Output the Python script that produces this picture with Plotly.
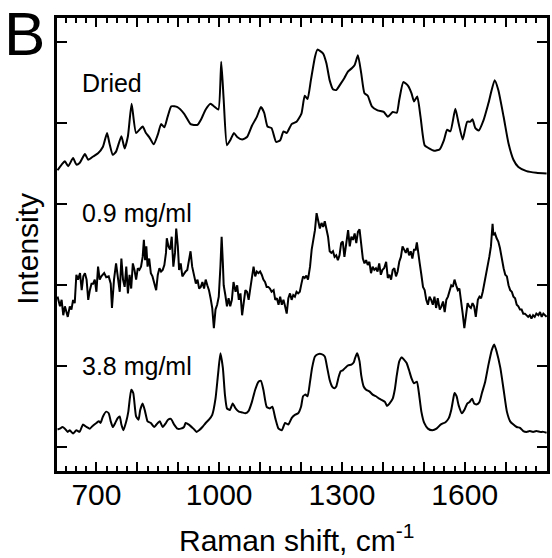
import plotly.graph_objects as go

# ---------------- data (Raman shift in cm^-1, intensity in arbitrary offset units) ----------------
dried_shift = [605,615,623,631,643,651,659,672,680,692,704,716,726,732,740,748,761,769,777,786,
               797,813,821,829,840,850,858,866,874,883,898,914,930,938,947,955,967,979,987,998,
               1005,1011,1019,1027,1036,1044,1056,1068,1080,1092,1102,1110,1118,1128,1139,1149,1157,1165,1177,1189,
               1201,1209,1216,1224,1234,1240,1254,1262,1270,1278,1286,1297,1306,1315,1324,1331,1339,1347,1355,1363,
               1373,1387,1402,1412,1424,1434,1440,1450,1462,1470,1476,1484,1492,1502,1513,1525,1539,1549,1557,1565,
               1577,1585,1595,1606,1614,1619,1626,1634,1646,1658,1673,1682,1695,1707,1719,1731,1751,1775,1800]
dried_int = [3.42,3.49,3.53,3.47,3.57,3.49,3.51,3.62,3.55,3.59,3.63,3.71,3.88,3.75,3.61,3.65,3.84,3.69,3.84,4.24,
             3.88,3.96,3.88,3.83,3.74,3.86,3.99,3.95,4.08,4.21,4.20,4.12,3.99,3.98,3.98,4.04,4.17,4.24,4.21,4.17,
             4.76,4.29,3.73,3.79,3.88,3.83,3.80,3.83,3.97,4.08,4.20,4.13,3.96,3.94,3.77,3.79,3.90,3.88,3.99,4.02,
             4.12,4.34,4.30,4.53,4.82,4.91,4.86,4.74,4.53,4.42,4.41,4.49,4.56,4.64,4.68,4.72,4.84,4.62,4.37,4.34,
             4.21,4.16,4.14,4.08,4.14,4.13,4.29,4.51,4.46,4.37,4.27,4.33,4.08,3.73,3.69,3.66,3.68,3.79,3.92,3.90,
             4.18,4.00,3.80,4.02,4.02,4.05,3.94,3.91,4.04,4.25,4.53,4.41,4.08,3.75,3.55,3.46,3.41,3.39,3.38]

c09_shift = [605,611,615,619,623,630,635,639,643,647,651,655,660,664,668,672,676,680,684,688,
             692,696,700,704,708,712,719,724,730,735,738,743,748,753,757,761,765,769,773,777,
             781,785,789,793,797,801,805,809,813,816,819,822,825,829,833,837,841,846,850,854,
             858,862,866,870,872,876,880,884,888,892,895,899,902,906,910,914,918,922,926,930,
             934,939,943,947,951,955,959,963,967,971,975,979,983,987,991,995,999,1003,1006,1009,
             1011,1015,1019,1023,1027,1031,1035,1040,1044,1048,1052,1056,1060,1064,1068,1072,1076,1080,1084,1088,
             1092,1096,1100,1104,1108,1112,1116,1120,1124,1128,1133,1137,1141,1145,1149,1153,1157,1161,1165,1169,
             1173,1177,1181,1185,1189,
             1193,1197,1201,1205,1209,1213,1217,1222,1226,1230,1234,1238,1242,1246,1250,1254,1258,1262,1266,1270,
             1274,1278,1282,1286,1290,1294,1298,1302,1306,1310,1315,1319,1323,1327,1331,1335,1339,1343,1347,1351,
             1355,1359,1363,1367,1371,1375,1379,1383,1387,1391,1395,1399,1403,1408,1412,1416,1420,1424,1428,1432,
             1436,1440,1444,1448,1452,1456,1460,1464,1468,1472,1476,1480,1483,1486,1490,1494,1498,1502,1506,1510,
             1514,1518,1522,1526,1530,1534,1539,1543,1547,1551,1555,1559,1563,1567,1571,1575,1579,1583,1587,1591,
             1595,1599,1603,1607,1611,1615,1619,1623,1627,1632,1636,1640,1644,1648,1652,1656,1660,1664,1668,1670,
             1674,1678,1682,1686,1691,1695,1699,1703,1707,1711,1715,1719,1723,1727,1731,1735,1739,1743,1747,1751,
             1755,1759,1763,1767,1771,1775,1780,1784,1788,1792,1796,1800]
c09_int = [1.86,1.74,1.82,1.63,1.74,1.61,1.74,1.70,1.82,1.78,2.13,2.07,2.15,1.94,2.11,2.15,2.07,1.82,1.94,2.02,
           2.02,2.07,1.92,2.23,2.07,2.11,2.15,2.10,2.11,2.02,1.72,2.07,2.27,2.07,1.92,2.33,2.07,1.98,2.23,1.90,
           2.13,1.96,2.27,2.19,2.07,2.21,2.19,2.23,2.35,2.56,2.31,2.48,2.23,2.33,2.15,2.11,2.04,1.94,2.13,2.21,
           2.17,2.19,2.25,2.40,2.58,2.48,2.44,2.60,2.23,2.40,2.70,2.48,2.19,2.27,2.11,2.15,2.17,2.19,2.31,2.42,
           2.23,2.13,2.02,2.07,1.96,1.98,2.04,1.96,2.07,2.00,1.94,1.84,1.72,1.47,1.70,1.76,1.86,2.23,2.60,2.27,
           2.00,1.88,1.74,1.84,1.74,1.82,2.04,1.92,2.00,1.82,1.90,1.63,1.78,1.94,1.92,1.82,1.96,2.13,2.23,2.11,
           2.17,2.15,2.17,2.13,2.07,2.04,1.98,1.98,1.96,1.92,1.94,1.82,1.84,1.76,1.86,1.76,1.82,1.74,1.65,1.84,
           1.90,1.82,1.88,1.86,1.92,
           1.90,1.92,2.02,2.11,2.09,2.12,2.07,2.23,2.44,2.56,2.68,2.89,2.81,2.70,2.77,2.72,2.79,2.70,2.60,2.42,
           2.40,2.42,2.35,2.37,2.31,2.37,2.52,2.54,2.35,2.50,2.68,2.48,2.60,2.56,2.64,2.52,2.66,2.69,2.52,2.33,
           2.27,2.31,2.25,2.29,2.15,2.23,2.19,2.21,2.17,2.27,2.13,2.19,2.21,2.29,2.09,2.13,2.07,2.19,2.21,2.11,
           2.17,2.29,2.35,2.48,2.44,2.40,2.46,2.37,2.42,2.33,2.44,2.44,2.53,2.44,2.27,2.13,1.98,1.94,1.82,1.76,
           1.86,1.82,1.76,1.86,1.72,1.84,1.70,1.74,1.80,1.67,1.82,1.86,1.92,2.00,1.98,2.07,2.00,1.94,1.96,1.82,
           1.65,1.47,1.61,1.78,1.74,1.72,1.78,1.74,1.61,1.82,1.86,1.84,1.92,2.02,2.13,2.25,2.35,2.48,2.76,2.62,
           2.64,2.58,2.54,2.46,2.31,2.21,2.13,2.11,2.00,1.94,1.92,1.86,1.84,1.76,1.74,1.70,1.70,1.65,1.65,1.63,
           1.61,1.63,1.59,1.63,1.61,1.65,1.63,1.67,1.61,1.65,1.63,1.61]

c38_shift = [605,611,617,623,630,635,643,651,659,667,676,684,692,700,706,710,716,724,730,735,
             740,746,752,757,761,766,773,778,785,790,797,803,807,813,819,825,833,841,850,855,
             862,870,875,882,890,898,906,914,918,926,937,945,951,959,967,975,983,991,997,1003,
             1009,1014,1019,1026,1033,1040,1048,1056,1064,1072,1080,1088,1096,1102,1108,1116,1124,1130,1137,1145,
             1153,1161,1169,1177,1185,
             1193,1200,1205,1211,1216,1222,1227,1234,1242,1250,1258,1264,1270,1276,1282,1286,1292,1297,1302,1308,
             1315,1323,1329,1332,1337,1343,1347,1353,1359,1367,1375,1383,1391,1399,1405,1410,1416,1424,1429,1434,
             1440,1446,1452,1458,1464,1470,1476,1483,1488,1494,1501,1510,1521,1531,1541,1553,1561,1567,1572,1575,
             1580,1585,1593,1600,1606,1612,1618,1623,1630,1636,1642,1650,1658,1666,1672,1678,1687,1695,1703,1711,
             1719,1727,1735,1743,1751,1759,1767,1775,1784,1792,1800]
c38_int = [0.22,0.23,0.25,0.23,0.19,0.21,0.17,0.21,0.19,0.28,0.25,0.23,0.27,0.30,0.32,0.30,0.38,0.44,0.42,0.32,
           0.25,0.30,0.36,0.38,0.28,0.21,0.32,0.44,0.71,0.67,0.38,0.34,0.46,0.54,0.44,0.32,0.30,0.25,0.30,0.32,
           0.25,0.30,0.34,0.35,0.28,0.23,0.23,0.25,0.30,0.28,0.23,0.19,0.21,0.25,0.30,0.34,0.40,0.60,0.89,1.16,
           0.98,0.65,0.48,0.46,0.54,0.48,0.44,0.43,0.42,0.45,0.56,0.71,0.81,0.82,0.71,0.50,0.48,0.50,0.36,0.23,
           0.21,0.30,0.28,0.36,0.40,
           0.42,0.50,0.63,0.65,0.63,0.81,0.98,1.12,1.15,1.15,1.12,0.98,0.83,0.75,0.73,0.75,0.87,0.94,0.95,0.98,
           1.01,1.02,1.05,1.10,1.16,1.06,0.89,0.75,0.71,0.69,0.65,0.63,0.60,0.58,0.56,0.51,0.54,0.60,0.71,0.89,
           1.06,1.11,1.08,1.04,0.95,0.85,0.79,0.81,0.67,0.44,0.30,0.23,0.21,0.23,0.28,0.31,0.36,0.46,0.60,0.67,
           0.63,0.52,0.42,0.47,0.54,0.56,0.60,0.54,0.53,0.56,0.67,0.81,1.02,1.20,1.27,1.18,0.98,0.71,0.44,0.32,
           0.28,0.25,0.24,0.20,0.19,0.20,0.19,0.20,0.19,0.19,0.18]

series_labels = ["Dried", "0.9 mg/ml", "3.8 mg/ml"]
x_tickvals = [700, 800, 900, 1000, 1100, 1200, 1300, 1400, 1500, 1600, 1700, 1800]
x_ticktext = ["700", " ", " ", "1000", " ", " ", "1300", " ", " ", "1600", " ", " "]
y_tickvals = [0, 1, 2, 3, 4, 5]

# ---------------- figure ----------------
FONT = "Liberation Sans, Arial, Helvetica, sans-serif"
fig = go.Figure()
for xs, ys, smooth in [(dried_shift, dried_int, True), (c09_shift, c09_int, False), (c38_shift, c38_int, True)]:
    fig.add_trace(go.Scatter(
        x=xs, y=ys, mode="lines",
        line=dict(color="black", width=2.0, shape="spline" if smooth else "linear", smoothing=0.5),
        showlegend=False, hoverinfo="skip"))

label_pos = [(660, 4.50), (660, 2.89), (660, 1.00)]
for (lx, ly), txt in zip(label_pos, series_labels):
    fig.add_annotation(x=lx, y=ly, text=txt, showarrow=False, xanchor="left", yanchor="middle",
                       font=dict(family=FONT, size=25, color="black"))

fig.add_annotation(xref="paper", yref="paper", x=-0.112, y=0.966, text="B", showarrow=False,
                   xanchor="left", yanchor="middle", font=dict(family=FONT, size=62, color="black"))
fig.add_annotation(xref="paper", yref="paper", x=0.488, y=-0.147, text="Raman shift, cm<sup>-1</sup>",
                   showarrow=False, xanchor="center", yanchor="middle",
                   font=dict(family=FONT, size=30, color="black"))
fig.add_annotation(xref="paper", yref="paper", x=-0.062, y=0.49, text="Intensity", textangle=-90,
                   showarrow=False, xanchor="center", yanchor="middle",
                   font=dict(family=FONT, size=30, color="black"))

fig.update_xaxes(range=[603.7, 1801], tickmode="array", tickvals=x_tickvals, ticktext=x_ticktext,
                 ticks="inside", ticklen=9, tickwidth=2, tickcolor="black", ticklabelstandoff=-5,
                 minor=dict(dtick=25, tick0=600, ticks="inside", ticklen=5, tickwidth=1.8, tickcolor="black"),
                 showline=True, linewidth=2.5, linecolor="black", mirror="allticks",
                 showgrid=False, zeroline=False,
                 tickfont=dict(family=FONT, size=30, color="black"))
fig.update_yaxes(range=[-0.293, 5.30], tickmode="array", tickvals=y_tickvals, showticklabels=False,
                 ticks="inside", ticklen=10, tickwidth=2, tickcolor="black",
                 showline=True, linewidth=2.5, linecolor="black", mirror="allticks",
                 showgrid=False, zeroline=False)
fig.update_layout(width=552, height=558, margin=dict(l=57, r=2, t=18, b=87),
                  paper_bgcolor="white", plot_bgcolor="white")
fig.write_html("out.html", config={"displayModeBar": False},
               post_script="document.body.style.margin='0';document.body.style.padding='0';"
                           "document.body.style.overflow='hidden';")
